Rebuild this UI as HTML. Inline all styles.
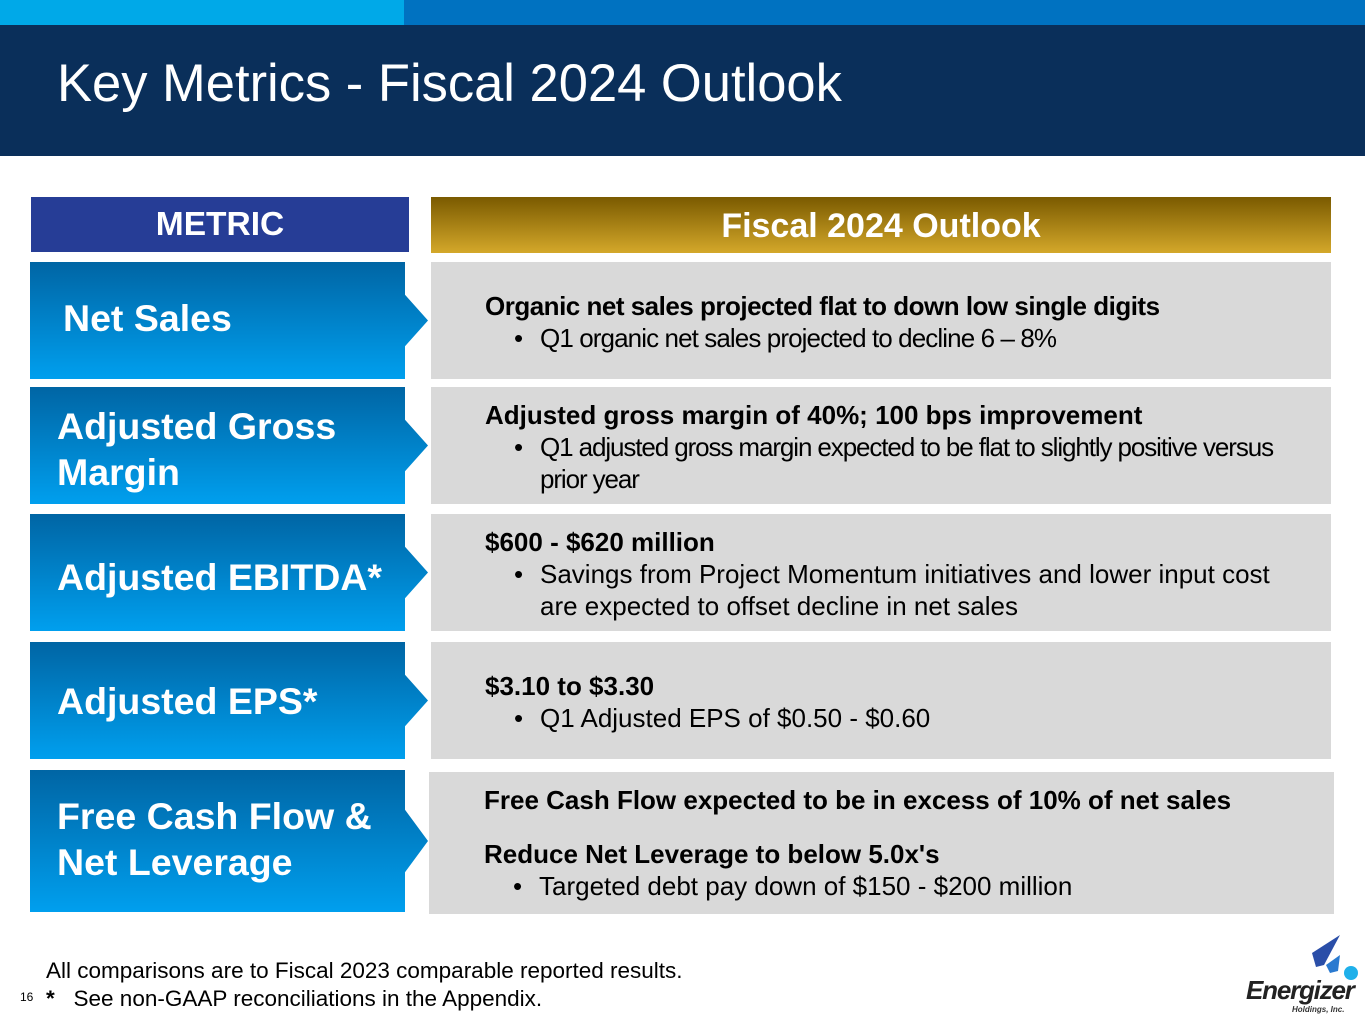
<!DOCTYPE html>
<html><head><meta charset="utf-8"><style>
body{margin:0;width:1365px;height:1024px;position:relative;background:#fff;font-family:"Liberation Sans",sans-serif;overflow:hidden}
div{position:absolute;box-sizing:border-box}
.row{left:30px;width:400px;color:#fff;font-weight:bold;font-size:37.5px;line-height:46px;display:flex;align-items:center;padding-left:27px;
background:linear-gradient(#0065a4,#009fee);clip-path:polygon(0 0,375px 0,375px 28%,398px 50%,375px 72%,375px 100%,0 100%)}
.box{left:431px;width:900px;background:#d9d9d9;padding-left:54px;padding-right:20px;font-size:26px;color:#000;line-height:32px;letter-spacing:0}
.box b{display:block}
.box .bl{position:relative;padding-left:55px}
.box .bl i{position:absolute;left:29px;top:0;font-style:normal;letter-spacing:0}
</style></head><body>
<div style="left:0;top:0;width:404px;height:25px;background:#00a9e8"></div>
<div style="left:404px;top:0;width:961px;height:25px;background:#0072c1"></div>
<div style="left:0;top:25px;width:1365px;height:131px;background:#0a2f5a"></div>
<div style="left:57px;top:54px;color:#fff;font-size:52.5px;line-height:60px">Key Metrics - Fiscal 2024 Outlook</div>
<div style="left:31px;top:197px;width:378px;height:55px;background:#263d96;color:#fff;font-weight:bold;font-size:33.5px;text-align:center;line-height:55px">METRIC</div>
<div style="left:431px;top:197px;width:900px;height:56px;background:linear-gradient(#7a5a00,#d4a82a);color:#fff;font-weight:bold;font-size:34px;text-align:center;line-height:58px">Fiscal 2024 Outlook</div>

<div class="row" style="top:262px;height:117px;padding-left:33px;padding-bottom:6px">Net Sales</div>
<div class="row" style="top:387px;height:117px;padding-top:6px">Adjusted Gross<br>Margin</div>
<div class="row" style="top:514px;height:117px;padding-top:8px">Adjusted EBITDA*</div>
<div class="row" style="top:642px;height:117px">Adjusted EPS*</div>
<div class="row" style="top:770px;height:142px;padding-bottom:4px">Free Cash Flow &amp;<br>Net Leverage</div>

<div class="box" style="top:262px;height:117px;padding-top:28px;letter-spacing:-0.5px"><b>Organic net sales projected flat to down low single digits</b><div class="bl" style="letter-spacing:-0.9px"><i>•</i>Q1 organic net sales projected to decline 6 – 8%</div></div>
<div class="box" style="top:387px;height:117px;padding-top:12px;padding-right:10px"><b>Adjusted gross margin of 40%; 100 bps improvement</b><div class="bl" style="letter-spacing:-1.1px"><i>•</i>Q1 adjusted gross margin expected to be flat to slightly positive versus prior year</div></div>
<div class="box" style="top:514px;height:117px;padding-top:12px;padding-right:40px"><b>$600 - $620 million</b><div class="bl"><i>•</i>Savings from Project Momentum initiatives and lower input cost are expected to offset decline in net sales</div></div>
<div class="box" style="top:642px;height:117px;padding-top:28px"><b>$3.10 to $3.30</b><div class="bl"><i>•</i>Q1 Adjusted EPS of $0.50 - $0.60</div></div>
<div class="box" style="top:772px;height:142px;left:429px;width:905px;padding-left:55px;padding-top:12px"><b>Free Cash Flow expected to be in excess of 10% of net sales</b><b style="margin-top:22px">Reduce Net Leverage to below 5.0x's</b><div class="bl"><i>•</i>Targeted debt pay down of $150 - $200 million</div></div>

<div style="left:46px;top:957px;font-size:22.5px;line-height:28px">All comparisons are to Fiscal 2023 comparable reported results.<br><b>*</b>&nbsp;&nbsp;&nbsp;See non-GAAP reconciliations in the Appendix.</div>
<div style="left:20px;top:990px;font-size:12px">16</div>
<svg style="position:absolute;left:1240px;top:925px" width="125" height="95">
<path d="M72 28 L100 10 L84 40 L76 42 Z" fill="#2a4ea8"/>
<path d="M86 40 L100 30 L98 46 L90 48 Z" fill="#2a7ad0"/>
<circle cx="111" cy="48" r="7" fill="#1fb0ea"/>
<text x="6" y="74" font-family="Liberation Sans" font-weight="bold" font-style="italic" font-size="26" fill="#222" letter-spacing="-1.2">Energizer</text>
<text x="52" y="87" font-family="Liberation Sans" font-style="italic" font-weight="bold" font-size="8" fill="#333">Holdings, Inc.</text>
</svg>
</body></html>
